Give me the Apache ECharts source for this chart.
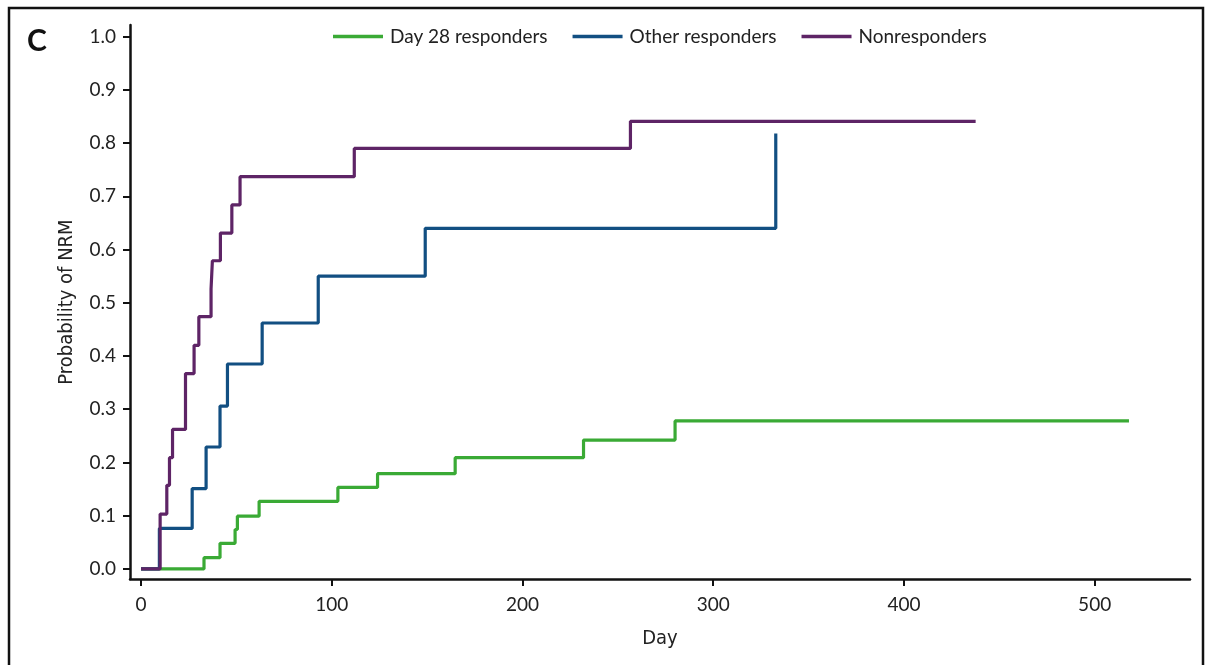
<!DOCTYPE html>
<html>
<head>
<meta charset="utf-8">
<script src="https://cdn.jsdelivr.net/npm/echarts@6/dist/echarts.min.js"></script>
<style>
html,body{margin:0;padding:0;background:#fff;}
#chart{width:1207px;height:665px;}
</style>
</head>
<body>
<div id="chart"></div>
<script>
// ---- data ----
var seriesNames = ['Day 28 responders', 'Other responders', 'Nonresponders'];
var day28Days   = [0, 33, 41.4, 49.3, 50.5, 61.9, 103.2, 124, 164.7, 232, 280, 518];
var day28Prob   = [0, 0.021, 0.048, 0.074, 0.099, 0.127, 0.153, 0.179, 0.209, 0.242, 0.278, 0.278];
var otherDays   = [0, 9.6, 26.8, 34.1, 41.4, 45.3, 63.5, 92.9, 149, 332.8];
var otherProb   = [0, 0.076, 0.151, 0.229, 0.306, 0.385, 0.462, 0.550, 0.640, 0.818];
var nonDays     = [0, 10, 13.5, 14.9, 16.5, 23.3, 27.8, 30.3, 36.7, 37.4, 41.6, 47.6, 51.9, 111.8, 256.6, 437.6];
var nonProb     = [0, 0.103, 0.157, 0.209, 0.262, 0.367, 0.420, 0.474, 0.526, 0.579, 0.631, 0.684, 0.737, 0.790, 0.841, 0.841];
var xTicks = [0, 100, 200, 300, 400, 500];
var yTicks = [0, 0.1, 0.2, 0.3, 0.4, 0.5, 0.6, 0.7, 0.8, 0.9, 1.0];

function pairs(xs, ys){ return xs.map(function(x,i){ return [x, ys[i]]; }); }

var colors = ['#3aaa35', '#124f82', '#5e2466'];
var tickFont = 'Lato, "Noto Sans", sans-serif';
var nameFont = '"Liberation Sans Narrow", "DejaVu Sans Condensed", Lato, sans-serif';

var chart = echarts.init(document.getElementById('chart'), null, {renderer:'canvas'});
var option = {
  animation: false,
  backgroundColor: '#fff',
  color: colors,
  grid: {left: 130, top: 25, right: 17, bottom: 86, containLabel: false},
  legend: {
    left: 328, top: 22,
    icon: 'rect',
    itemWidth: 50, itemHeight: 3.5, itemGap: 25,
    textStyle: {fontFamily: tickFont, fontSize: 19, color: '#222', padding: [0, 0, 0, 2]},
    data: seriesNames
  },
  xAxis: {
    type: 'value', min: -5.8, max: 550,
    name: 'Day', nameLocation: 'middle', nameGap: 50,
    nameTextStyle: {fontFamily: nameFont, fontSize: 20, color: '#222'},
    axisLine: {show: true, onZero: false, lineStyle: {color: '#111', width: 2.5}},
    axisTick: {show: true, length: 7, customValues: xTicks, lineStyle: {color: '#111', width: 2}},
    axisLabel: {customValues: xTicks, margin: 16, fontFamily: tickFont, fontSize: 19, color: '#222'},
    splitLine: {show: false}
  },
  yAxis: {
    type: 'value', min: -0.019, max: 1.022,
    name: 'Probability of NRM', nameLocation: 'middle', nameGap: 53,
    nameTextStyle: {fontFamily: nameFont, fontSize: 20, color: '#222'},
    axisLine: {show: true, onZero: false, lineStyle: {color: '#111', width: 2.5}},
    axisTick: {show: true, length: 7, customValues: yTicks, lineStyle: {color: '#111', width: 2}},
    axisLabel: {customValues: yTicks, margin: 14, fontFamily: tickFont, fontSize: 19, color: '#222',
      formatter: function(v){ return v.toFixed(1); }},
    splitLine: {show: false}
  },
  graphic: [
    {type: 'rect', shape: {x: 9, y: 8, width: 1194, height: 700}, style: {fill: 'none', stroke: '#111', lineWidth: 2.5}, silent: true},
    {type: 'text', left: 27, top: 26, style: {text: 'C', fontFamily: 'Lato, "Noto Sans", sans-serif', fontWeight: 'bold', fontSize: 30, fill: '#111'}}
  ],
  series: [
    {name: seriesNames[0], type: 'line', step: 'end', symbol: 'none', data: pairs(day28Days, day28Prob), lineStyle: {width: 3.2, color: colors[0]}, z: 2},
    {name: seriesNames[1], type: 'line', step: 'end', symbol: 'none', data: pairs(otherDays, otherProb), lineStyle: {width: 3.2, color: colors[1]}, z: 3},
    {name: seriesNames[2], type: 'line', step: 'end', symbol: 'none', data: pairs(nonDays, nonProb), lineStyle: {width: 3.2, color: colors[2]}, z: 4}
  ]
};
chart.setOption(option);
</script>
</body>
</html>
